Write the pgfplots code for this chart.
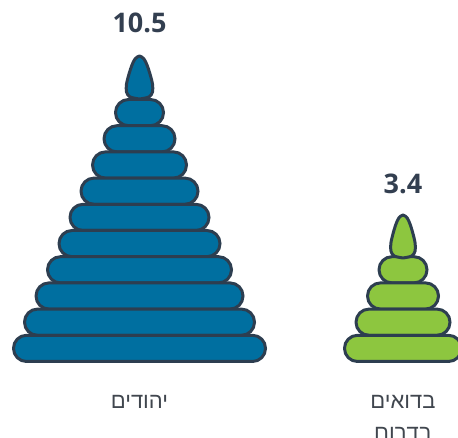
\documentclass[border=0pt]{standalone}
\usepackage{fontspec}
\usepackage{pgfplots}
\pgfplotsset{compat=1.18}
\TeXXeTstate=1
\newfontfamily\hebfont[Script=Hebrew]{Liberation Sans}
\newfontfamily\numfont{Open Sans}
\definecolor{ringblue}{RGB}{0,111,160}
\definecolor{ringgreen}{RGB}{141,198,63}
\definecolor{outline}{RGB}{45,62,80}
\definecolor{numcol}{RGB}{51,63,80}
\definecolor{labcol}{RGB}{64,70,78}
\begin{document}
\begin{tikzpicture}
\path[use as bounding box] (0,0) rectangle (458bp,438bp);
\begin{axis}[at={(0,0)}, anchor=south west, width=458bp, height=438bp,
  scale only axis, xmin=0, xmax=458, ymin=0, ymax=438, hide axis, clip=false]
\pgfplotsset{ring/.style={draw=outline, line width=3bp, rounded corners=13bp, line join=round},
  drop/.style={draw=outline, line width=3bp, smooth, line join=round}}
% Jews: 10 rings + half (droplet)
\addplot[ring, fill=ringblue] coordinates {(139.5,312.3) (163.5,312.3) (163.5,338.5) (115.5,338.5) (115.5,312.3)} -- cycle;
\addplot[ring, fill=ringblue] coordinates {(139.5,286.1) (175,286.1) (175,312.3) (104,312.3) (104,286.1)} -- cycle;
\addplot[ring, fill=ringblue] coordinates {(139.5,259.9) (186.5,259.9) (186.5,286.1) (92.5,286.1) (92.5,259.9)} -- cycle;
\addplot[ring, fill=ringblue] coordinates {(139.5,233.7) (198,233.7) (198,259.9) (81,259.9) (81,233.7)} -- cycle;
\addplot[ring, fill=ringblue] coordinates {(139.5,207.5) (209,207.5) (209,233.7) (70,233.7) (70,207.5)} -- cycle;
\addplot[ring, fill=ringblue] coordinates {(139.5,181.3) (220,181.3) (220,207.5) (59,207.5) (59,181.3)} -- cycle;
\addplot[ring, fill=ringblue] coordinates {(139.5,155.1) (231.5,155.1) (231.5,181.3) (47.5,181.3) (47.5,155.1)} -- cycle;
\addplot[ring, fill=ringblue] coordinates {(139.5,128.9) (243,128.9) (243,155.1) (36,155.1) (36,128.9)} -- cycle;
\addplot[ring, fill=ringblue] coordinates {(139.5,102.7) (254.5,102.7) (254.5,128.9) (24.5,128.9) (24.5,102.7)} -- cycle;
\addplot[ring, fill=ringblue] coordinates {(139.5,76.5) (265.5,76.5) (265.5,102.7) (13.5,102.7) (13.5,76.5)} -- cycle;
\addplot[drop, fill=ringblue] coordinates {(139.5,339) (149,341) (152.5,346) (152.5,354) (150,364) (147,373) (144,379) (139.5,382) (135,379) (132,373) (129,364) (126.5,354) (126.5,346) (130,341) (139.5,339)} -- cycle;
% Bedouins in the south
\addplot[ring, fill=ringgreen] coordinates {(403,155.1) (427,155.1) (427,181.3) (379,181.3) (379,155.1)} -- cycle;
\addplot[ring, fill=ringgreen] coordinates {(403,128.9) (438.5,128.9) (438.5,155.1) (367.5,155.1) (367.5,128.9)} -- cycle;
\addplot[ring, fill=ringgreen] coordinates {(403,102.7) (450,102.7) (450,128.9) (356,128.9) (356,102.7)} -- cycle;
\addplot[ring, fill=ringgreen] coordinates {(403,76.5) (461.5,76.5) (461.5,102.7) (344.5,102.7) (344.5,76.5)} -- cycle;
\addplot[drop, fill=ringgreen] coordinates {(403,180) (411.8,182) (415.1,187) (415.1,195) (412.8,205) (410,214) (407.2,220) (403,223) (398.8,220) (396,214) (393.2,205) (390.9,195) (390.9,187) (394.2,182) (403,180)} -- cycle;
% labels
\node[font=\numfont\bfseries\fontsize{27bp}{32bp}\selectfont, text=numcol] at (axis cs:139.5,415.5) {10.5};
\node[font=\numfont\bfseries\fontsize{27bp}{32bp}\selectfont, text=numcol] at (axis cs:403,254.5) {3.4};
\node[font=\hebfont\fontsize{22bp}{26bp}\selectfont, text=labcol] at (axis cs:139.5,36) {\beginR יהודים\endR};
\node[font=\hebfont\fontsize{22bp}{26bp}\selectfont, text=labcol] at (axis cs:403,36) {\beginR בדואים\endR};
\node[font=\hebfont\fontsize{22bp}{26bp}\selectfont, text=labcol] at (axis cs:403,4.5) {\beginR בדרום\endR};
\end{axis}
\end{tikzpicture}
\end{document}
